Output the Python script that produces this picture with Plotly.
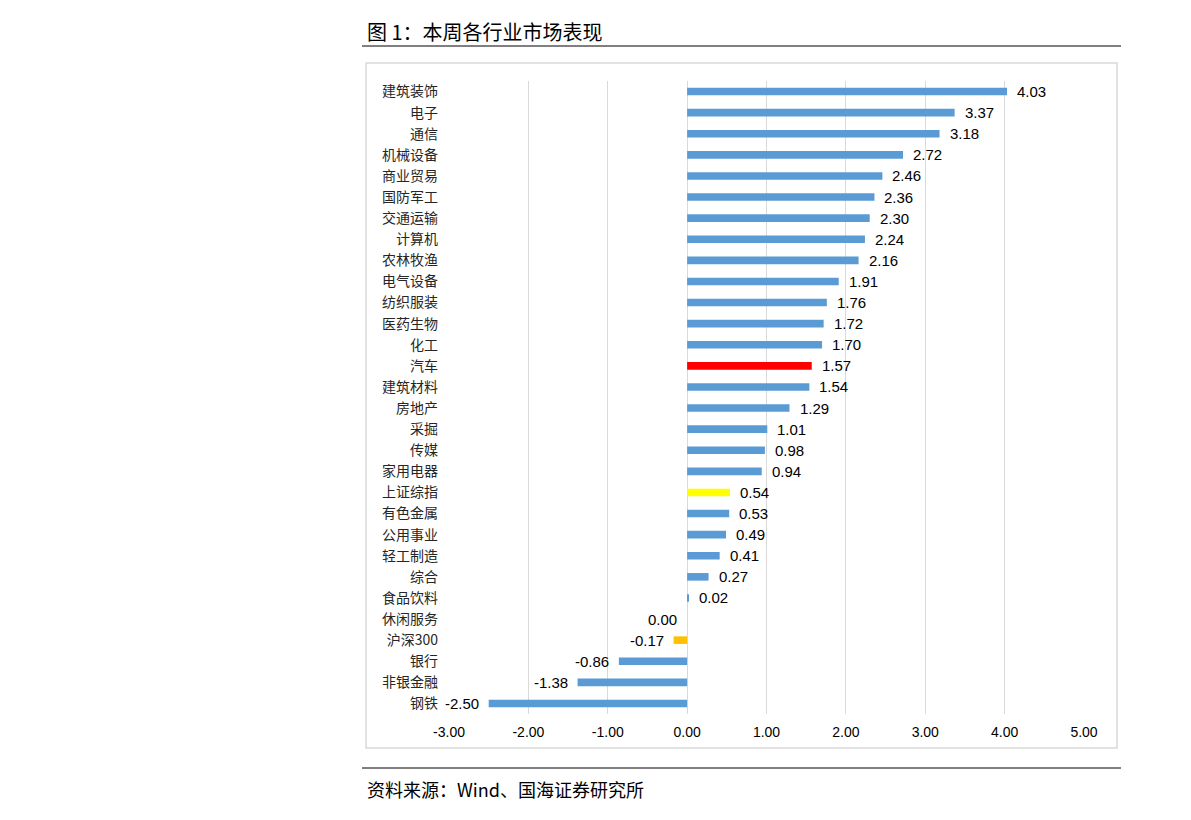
import plotly.graph_objects as go

categories = ["建筑装饰", "电子", "通信", "机械设备", "商业贸易", "国防军工", "交通运输", "计算机",
              "农林牧渔", "电气设备", "纺织服装", "医药生物", "化工", "汽车", "建筑材料", "房地产",
              "采掘", "传媒", "家用电器", "上证综指", "有色金属", "公用事业", "轻工制造", "综合",
              "食品饮料", "休闲服务", "沪深300", "银行", "非银金融", "钢铁"]
values = [4.03, 3.37, 3.18, 2.72, 2.46, 2.36, 2.30, 2.24, 2.16, 1.91, 1.76, 1.72, 1.70, 1.57,
          1.54, 1.29, 1.01, 0.98, 0.94, 0.54, 0.53, 0.49, 0.41, 0.27, 0.02, 0.00, -0.17, -0.86,
          -1.38, -2.50]
highlight = {"汽车": "#FF0000", "上证综指": "#FFFF00", "沪深300": "#FFC000"}
base_color = "#5B9BD5"
x_ticks = [-3, -2, -1, 0, 1, 2, 3, 4, 5]

OFF = 8  # page body margin
W, H = 1191, 820
L, R, T, B = 449 - OFF, 1084 - OFF, 81 - OFF, 714 - OFF

def px(x):
    return (x - OFF - L) / (R - L)

def py(y):
    return (B - (y - OFF)) / (B - T)

colors = [highlight.get(c, base_color) for c in categories]

fig = go.Figure()
fig.add_trace(go.Bar(
    x=values, y=categories, orientation="h",
    marker=dict(color=colors, line=dict(width=0)),
    hoverinfo="x+y",
))

annotations = []
for c, v in zip(categories, values):
    pos = v > 0
    annotations.append(dict(
        x=v, y=c, xref="x", yref="y", text=f"{v:.2f}", showarrow=False,
        xanchor="left" if pos else "right", xshift=8 if pos else -8,
        font=dict(family="Liberation Sans, Arial, sans-serif", size=15, color="#000000"),
    ))

annotations.append(dict(
    x=px(365), y=py(31), xref="paper", yref="paper", text="图 1：本周各行业市场表现",
    showarrow=False, xanchor="left", yanchor="middle",
    font=dict(family="Noto Sans CJK SC", size=20, color="#000000"),
))
annotations.append(dict(
    x=px(365), y=py(789), xref="paper", yref="paper", text="资料来源：Wind、国海证券研究所",
    showarrow=False, xanchor="left", yanchor="middle",
    font=dict(family="Noto Sans CJK SC", size=18, color="#000000"),
))

shapes = [
    dict(type="line", xref="paper", yref="paper", x0=px(362), x1=px(1121), y0=py(46), y1=py(46),
         line=dict(color="#000000", width=1)),
    dict(type="line", xref="paper", yref="paper", x0=px(362), x1=px(1121), y0=py(768), y1=py(768),
         line=dict(color="#000000", width=1)),
    dict(type="rect", xref="paper", yref="paper", x0=px(366), x1=px(1117), y0=py(63), y1=py(748),
         line=dict(color="#D9D9D9", width=1.5), layer="below"),
]

fig.update_layout(
    width=W, height=H,
    margin=dict(l=L, r=W - R, t=T, b=H - B),
    paper_bgcolor="white", plot_bgcolor="white",
    bargap=0.64,
    showlegend=False,
    annotations=annotations,
    shapes=shapes,
    xaxis=dict(
        range=[-3, 5], tickvals=x_ticks, ticktext=[f"{t:.2f}" for t in x_ticks],
        showgrid=True, gridcolor="#D9D9D9", gridwidth=1, zeroline=False,
        showline=False, ticks="", ticklabelstandoff=8,
        tickfont=dict(family="Liberation Sans, Arial, sans-serif", size=14, color="#000000"),
    ),
    yaxis=dict(
        autorange="reversed", showgrid=False, zeroline=False, showline=False, ticks="",
        ticklabelstandoff=10,
        tickfont=dict(family="Noto Sans CJK SC", size=14, color="#262626"),
    ),
)

fig.write_html("out.html")
